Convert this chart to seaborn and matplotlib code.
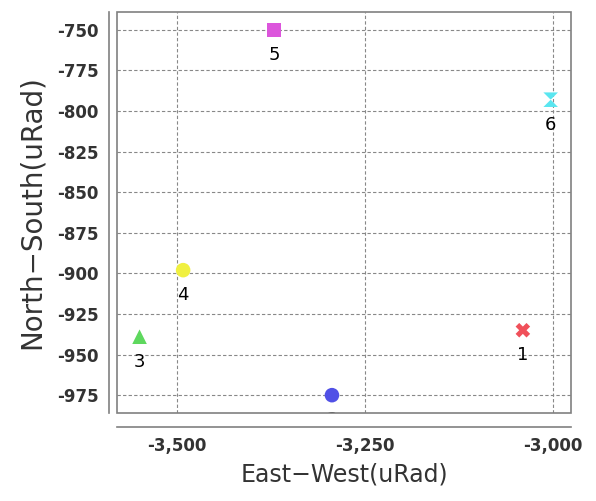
import matplotlib
matplotlib.use("Agg")
import matplotlib.pyplot as plt
import matplotlib.ticker as mticker
from matplotlib.patches import Rectangle
import seaborn as sns
import pandas as pd

# ---- data ----
point_ids = ["1", "2", "3", "4", "5", "6"]
east_west = [-3040, -3294, -3550, -3492, -3371, -3003]
north_south = [-935, -975, -939, -898, -750, -793]
point_colors = ["#f0505a", "#5050e6", "#5ed85e", "#f0f040", "#dc55dc", "#5ae6f0"]
x_ticks = [-3500, -3250, -3000]
y_ticks = [-750, -775, -800, -825, -850, -875, -900, -925, -950, -975]

df = pd.DataFrame({"ew": east_west, "ns": north_south, "id": point_ids})

sns.set_theme(style="white")
plt.rcParams["font.family"] = ["DejaVu Sans"]

fig = plt.figure(figsize=(5.96, 5.01), dpi=100)
ax = fig.add_axes([0.1963, 0.1756, 0.958 - 0.1963, 0.976 - 0.1756])

hourglass = [(-1, 1), (1, 1), (-1, -1), (1, -1), (-1, 1)]
markers = {"1": "X", "2": "o", "3": "^", "4": "o", "5": "s", "6": hourglass}

sns.scatterplot(data=df, x="ew", y="ns", hue="id", style="id",
                palette=dict(zip(point_ids, point_colors)),
                markers=markers, s=110, linewidth=0, legend=False,
                ax=ax, zorder=3)

for x, y, t in zip(east_west, north_south, point_ids):
    ax.annotate(t, (x, y), xytext=(0, -18), textcoords="offset points",
                ha="center", va="center", fontsize=13, color="black",
                clip_on=True, annotation_clip=False, zorder=4)

ax.set_xlim(-3580, -2976)
ax.set_ylim(-986, -739)
ax.set_xticks(x_ticks)
ax.set_yticks(y_ticks)
ax.xaxis.set_major_formatter(mticker.FuncFormatter(lambda v, p: f"{int(v):,}"))
ax.yaxis.set_major_formatter(mticker.FuncFormatter(lambda v, p: f"{int(v)}"))

ax.grid(True, color="#888888", linestyle=(0, (3, 2)), linewidth=0.8)
ax.set_axisbelow(True)

for side in ["top", "right"]:
    ax.spines[side].set_visible(False)
for side in ["left", "bottom"]:
    ax.spines[side].set_color("#808080")
    ax.spines[side].set_linewidth(1.2)
ax.spines["left"].set_position(("outward", 6))
ax.spines["bottom"].set_position(("outward", 10))

box = Rectangle((0, 0), 1, 1, transform=ax.transAxes, fill=False,
                edgecolor="#808080", linewidth=1.2, clip_on=False, zorder=5)
ax.add_patch(box)

ax.tick_params(axis="both", which="major", direction="inout", length=6,
               width=1, color="#808080", labelsize=12, pad=4)
for lab in ax.get_xticklabels() + ax.get_yticklabels():
    lab.set_fontweight("bold")
    lab.set_color("#333333")

ax.set_xlabel("East\u2212West(uRad)", fontsize=17, color="#333333", labelpad=6)
ax.set_ylabel("North\u2212South(uRad)", fontsize=20, color="#333333", labelpad=8)

fig.savefig("out.png", dpi=100)
